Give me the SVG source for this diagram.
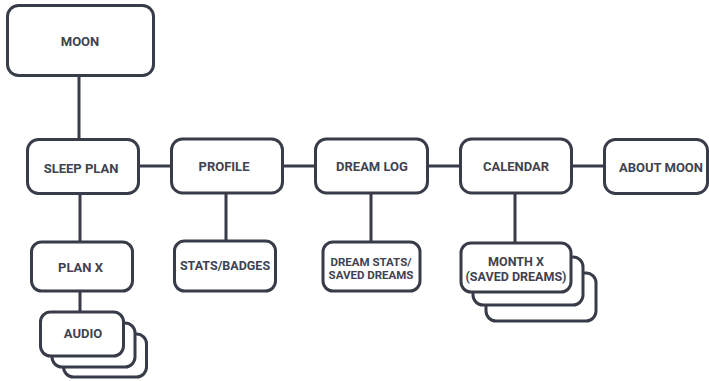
<svg xmlns="http://www.w3.org/2000/svg" width="709" height="381" viewBox="0 0 709 381">
<style>
.box{fill:#ffffff;stroke:#383b48;stroke-width:3}
.ln{stroke:#383b48;stroke-width:3;fill:none}
.t{font-family:Roboto,"Liberation Sans",sans-serif;font-weight:700;font-size:13px;fill:#3f4250;text-anchor:middle}
.s{font-size:11.5px}
.m{font-size:12.5px}
</style>
<rect width="709" height="381" fill="#ffffff"/>
<g id="connectors">
<line class="ln" x1="79" y1="76" x2="79" y2="139"/>
<line class="ln" x1="139" y1="166" x2="171" y2="166"/>
<line class="ln" x1="283" y1="166" x2="315" y2="166"/>
<line class="ln" x1="428" y1="166" x2="460" y2="166"/>
<line class="ln" x1="572" y1="166" x2="604" y2="166"/>
<line class="ln" x1="80" y1="194" x2="80" y2="242"/>
<line class="ln" x1="226" y1="193" x2="226" y2="241"/>
<line class="ln" x1="371" y1="193" x2="371" y2="242"/>
<line class="ln" x1="515" y1="193" x2="515" y2="243"/>
<line class="ln" x1="80" y1="291" x2="80" y2="312"/>
</g>
<g id="moon">
<rect class="box" x="7.5" y="5.5" width="146" height="70" rx="11"/>
<text class="t" x="80" y="46">MOON</text>
</g>
<g id="sleep-plan">
<rect class="box" x="27.5" y="139.5" width="111" height="54" rx="11"/>
<text class="t" x="81" y="172.5">SLEEP PLAN</text>
</g>
<g id="profile">
<rect class="box" x="171.5" y="139" width="111" height="54" rx="11"/>
<text class="t" x="224" y="171">PROFILE</text>
</g>
<g id="dream-log">
<rect class="box" x="315.5" y="139" width="112" height="54" rx="11"/>
<text class="t" x="372" y="171">DREAM LOG</text>
</g>
<g id="calendar">
<rect class="box" x="460.5" y="139" width="111" height="54" rx="11"/>
<text class="t" x="516" y="171">CALENDAR</text>
</g>
<g id="about-moon">
<rect class="box" x="604.5" y="139.5" width="103" height="54" rx="11"/>
<text class="t" x="661" y="172">ABOUT MOON</text>
</g>
<g id="plan-x">
<rect class="box" x="31.5" y="242" width="101" height="49" rx="10"/>
<text class="t" x="80.5" y="272">PLAN X</text>
</g>
<g id="audio">
<rect class="box" x="63.5" y="334" width="83" height="43" rx="10"/>
<rect class="box" x="52" y="323" width="83" height="44" rx="10"/>
<rect class="box" x="40.5" y="312" width="83" height="44" rx="10"/>
<text class="t" x="83" y="338">AUDIO</text>
</g>
<g id="stats-badges">
<rect class="box" x="174.5" y="241" width="101" height="50" rx="10"/>
<text class="t" x="225" y="270" style="font-size:12.5px">STATS/BADGES</text>
</g>
<g id="dream-stats">
<rect class="box" x="323" y="242" width="97" height="49" rx="10"/>
<text class="t s" x="371" y="266">DREAM STATS/</text>
<text class="t s" x="371" y="279">SAVED DREAMS</text>
</g>
<g id="month-x">
<rect class="box" x="486" y="273" width="110" height="48" rx="10"/>
<rect class="box" x="473" y="257" width="110" height="48" rx="10"/>
<rect class="box" x="461" y="243" width="110" height="49" rx="10"/>
<text class="t m" x="516" y="265.5">MONTH X</text>
<text class="t m" x="516" y="280.5">(SAVED DREAMS)</text>
</g>
</svg>
